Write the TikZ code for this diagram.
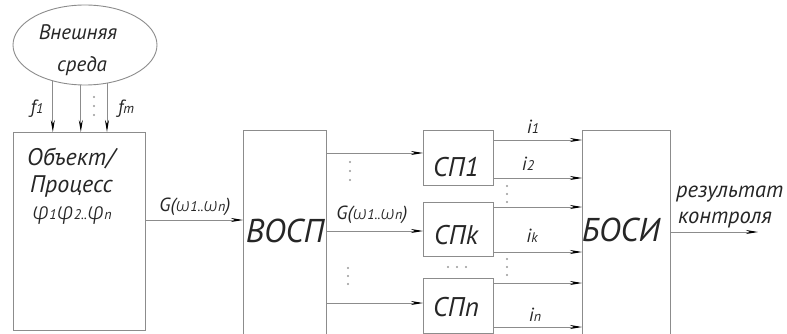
\documentclass[tikz,border=0pt]{standalone}
\usepackage{fontspec}
\setmainfont{PT Sans}
\newfontfamily\grk{Fira Sans Light}
\usetikzlibrary{shapes.geometric,arrows.meta,calc}
% smaller index digits/letters
\newcommand{\idx}[1]{{\fontsize{14}{14}\selectfont #1}}
\newcommand{\gphi}{{\grk φ}}
\newcommand{\gom}{{\grk ω}}
\begin{document}
\begin{tikzpicture}[x=1pt,y=-1pt,
  line/.style={draw=black!45, line width=0.9pt},
  arr/.style={line, -{Stealth[length=12pt,width=4pt,color=black]}},
  box/.style={line, fill=white, inner sep=0pt, outer sep=0pt},
  txt/.style={inner sep=0pt, text=black!85, font=\itshape\fontsize{24}{26}\selectfont},
  small/.style={txt, font=\itshape\fontsize{19}{21}\selectfont},
  big/.style={txt, font=\itshape\fontsize{33}{35}\selectfont},
  mid/.style={txt, font=\itshape\fontsize{27}{29}\selectfont},
  res/.style={txt, font=\itshape\fontsize{22.5}{24}\selectfont},
  dot/.style={fill=black!40, circle, inner sep=0pt, minimum size=2.2pt}
]
\clip (0,0) rectangle (787,334);

% environment
\node[box, ellipse, minimum width=144pt, minimum height=80pt] (env) at (85,45) {};
\node[small, font=\itshape\fontsize{21}{23}\selectfont, anchor=base] (envA) at (78,40) {Внешняя};
\node[small, font=\itshape\fontsize{21}{23}\selectfont, anchor=base] (envB) at (82,72) {среда};

% object / process
\node[box, minimum width=132pt, minimum height=198pt] (obj) at (79,231) {};
\node[txt, anchor=base west] (objA) at (27,165) {Объект/};
\node[txt, anchor=base west] (objB) at (30,192) {Процесс};
\node[txt, anchor=base west] (objC) at (32,219) {\gphi\idx{1}\gphi\idx{2..}\gphi\idx{n}};

% disturbances
\draw[arr] (env.228) -- (env.228 |- obj.north);
\draw[arr] (env.264) -- (env.264 |- obj.north);
\draw[arr] (env.300) -- (env.300 |- obj.north);
\node[small, anchor=base] (f1) at (37,114) {f\idx{1}};
\node[small, anchor=base] (fm) at (126,114) {f\idx{m}};
\node[dot] (d1) at (94,97) {};
\node[dot] (d2) at (94,106) {};
\node[dot] (d3) at (94,115) {};

% transmission system
\node[box, minimum width=83pt, minimum height=240pt, anchor=north] (vosp) at (284.5,130) {};
\node[big] (vospT) at (285,231) {ВОСП};
\draw[arr] ([yshift=11pt]obj.east) -- ([yshift=11pt]obj.east -| vosp.west);
\node[small, anchor=base] (g1) at (195,211) {G(\gom\idx{1..}\gom\idx{n})};

% sensors
\node[box, minimum width=70pt, minimum height=55pt] (sp1) at (458,157.5) {};
\node[box, minimum width=70pt, minimum height=54pt] (spk) at (458,229) {};
\node[box, minimum width=70pt, minimum height=55pt] (spn) at (458,305.5) {};
\node[mid] (sp1T) at (456,167) {СП1};
\node[mid] (spkT) at (456,235) {СПk};
\node[mid] (spnT) at (456,307) {СПn};

\draw[arr] (vosp.east |- sp1.west) ++(0,-4.5) -- ([yshift=4.5pt]sp1.west);
\draw[arr] (vosp.east |- spk.west) ++(0,2) -- ([yshift=-2pt]spk.west);
\draw[arr] (vosp.east |- spn.west) ++(0,-2.5) -- ([yshift=2.5pt]spn.west);
\node[small, anchor=base] (g2) at (372,219) {G(\gom\idx{1..}\gom\idx{n})};
\node[dot] (e1) at (350,162) {};
\node[dot] (e2) at (350,171) {};
\node[dot] (e3) at (350,180) {};
\node[dot] (e4) at (348,268) {};
\node[dot] (e5) at (348,276) {};
\node[dot] (e6) at (348,284) {};
\node[dot] (h1) at (448,267) {};
\node[dot] (h2) at (457,267) {};
\node[dot] (h3) at (466,267) {};

% processing unit
\node[box, minimum width=88pt, minimum height=240pt, anchor=north] (bosi) at (626,130) {};
\node[big] (bosiT) at (621,230) {БОСИ};

\draw[arr] ([yshift=-10pt]sp1.north east) -- ([yshift=-10pt]sp1.north east -| bosi.west);
\draw[arr] ([yshift=7pt]sp1.south east) -- ([yshift=7pt]sp1.south east -| bosi.west);
\draw[arr] ([yshift=-5pt]spk.north east) -- ([yshift=-5pt]spk.north east -| bosi.west);
\draw[arr] ([yshift=4pt]spk.south east) -- ([yshift=4pt]spk.south east -| bosi.west);
\draw[arr] ([yshift=-5pt]spn.north east) -- ([yshift=-5pt]spn.north east -| bosi.west);
\draw[arr] ([yshift=6pt]spn.south east) -- ([yshift=6pt]spn.south east -| bosi.west);
\node[small, anchor=base] (i1) at (533,134) {i\idx{1}};
\node[small, anchor=base] (i2) at (528,171) {i\idx{2}};
\node[small, anchor=base] (ik) at (532,242) {i\idx{k}};
\node[small, anchor=base] (in) at (535,321) {i\idx{n}};
\node[dot] (v1) at (507,186) {};
\node[dot] (v2) at (507,194) {};
\node[dot] (v3) at (507,202) {};
\node[dot] (v4) at (507,259) {};
\node[dot] (v5) at (507,267) {};
\node[dot] (v6) at (507,275) {};

% result
\coordinate (out) at (758,232);
\draw[arr] (bosi.east |- out) -- (out);
\node[res, anchor=base west] (resA) at (676,197) {результат};
\node[res, anchor=base west] (resB) at (678,223) {контроля};
\end{tikzpicture}
\end{document}
